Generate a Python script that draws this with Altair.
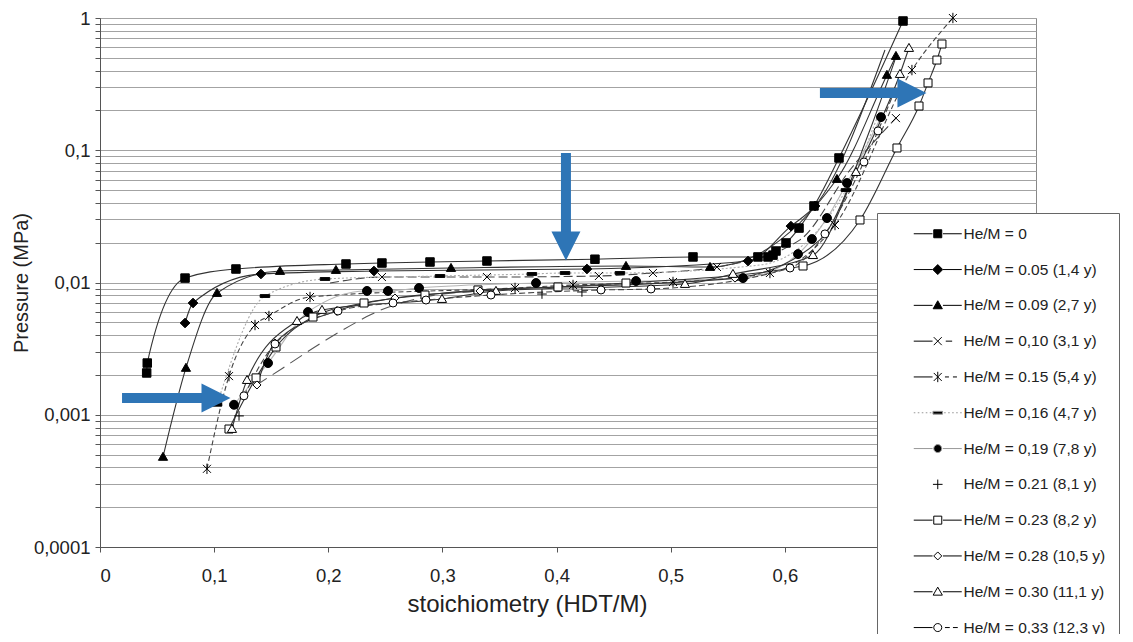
import altair as alt
import pandas as pd

BLUE = "#2E75B6"

legend_labels = [
    "He/M = 0",
    "He/M = 0.05 (1,4 y)",
    "He/M = 0.09 (2,7 y)",
    "He/M = 0,10 (3,1 y)",
    "He/M = 0.15 (5,4 y)",
    "He/M = 0,16 (4,7 y)",
    "He/M = 0,19 (7,8 y)",
    "He/M = 0.21 (8,1 y)",
    "He/M = 0.23 (8,2 y)",
    "He/M = 0.28 (10,5 y)",
    "He/M = 0.30 (11,1 y)",
    "He/M = 0,33 (12,3 y)",
]

# ---- series values (stoichiometry HDT/M, pressure MPa) ----
s00_x = [0.0409, 0.0414, 0.0745, 0.1191, 0.2155, 0.2470, 0.2891, 0.3390, 0.4336, 0.5195, 0.5764, 0.5852, 0.5896, 0.5922, 0.6010, 0.6124, 0.6255, 0.6474, 0.7035]
s00_p = [0.00207, 0.00246, 0.0108, 0.01265, 0.0138, 0.01404, 0.01429, 0.01454, 0.0150, 0.0156, 0.0156, 0.0156, 0.0161, 0.0173, 0.0199, 0.0258, 0.0379, 0.0874, 0.949]

s05_x = [0.0745, 0.0815, 0.141, 0.240, 0.4266, 0.5677, 0.6053, 0.6264]
s05_p = [0.00494, 0.0070, 0.0116, 0.01222, 0.01265, 0.01454, 0.0267, 0.0379]
s05_ex = [0.6877]
s05_ep = [0.573]

s09_x = [0.0552, 0.0753, 0.1025, 0.1577, 0.2067, 0.3075, 0.4608, 0.5344, 0.6456, 0.6894, 0.6973]
s09_p = [0.00048, 0.00226, 0.00833, 0.01222, 0.01243, 0.01287, 0.01333, 0.0131, 0.0606, 0.371, 0.516]

s10_x = [0.247, 0.339, 0.4371, 0.4844, 0.5405, 0.6973]
s10_p = [0.0110, 0.0110, 0.0112, 0.0118, 0.0131, 0.175]
s10_ex = [0.2015, 0.6132, 0.657]
s10_ep = [0.00991, 0.021, 0.0709]

s15_x = [0.0937, 0.113, 0.1358, 0.148, 0.184, 0.3636, 0.4144, 0.502, 0.5869, 0.6439, 0.7113, 0.7472]
s15_p = [0.00039, 0.00196, 0.00477, 0.00558, 0.00777, 0.00909, 0.00957, 0.01009, 0.0118, 0.0272, 0.404, 1.0]

s16_x = [0.1025, 0.1445, 0.1971, 0.2979, 0.3784, 0.4074, 0.4555, 0.6535]
s16_p = [0.00119, 0.0079, 0.01063, 0.0112, 0.0116, 0.0118, 0.0118, 0.050]
s16_ex = [0.5782, 0.6833]
s16_ep = [0.01356, 0.2015]

s19_x = [0.1174, 0.1472, 0.1822, 0.2339, 0.2523, 0.2795, 0.382, 0.4696, 0.5633, 0.6115, 0.6237, 0.6369, 0.6544, 0.6842]
s19_p = [0.00119, 0.00246, 0.00598, 0.00863, 0.00863, 0.00909, 0.00991, 0.01026, 0.0108, 0.0164, 0.0213, 0.0307, 0.0565, 0.178]

s21_x = [0.1218, 0.2076, 0.3872, 0.4222]
s21_p = [0.00098, 0.00609, 0.00818, 0.00848]
s21_lx = [0.1358, 0.1603, 0.191, 0.2251, 0.2365, 0.2803, 0.3329]
s21_lp = [0.00165, 0.00226, 0.00337, 0.00503, 0.00568, 0.00763, 0.00863]

s23_x = [0.113, 0.1367, 0.1542, 0.1866, 0.2313, 0.2847, 0.3311, 0.4012, 0.4608, 0.6159, 0.6658, 0.6982, 0.7175, 0.7254, 0.7332, 0.7376]
s23_p = [0.00078, 0.0019, 0.00325, 0.00548, 0.0070, 0.00804, 0.00878, 0.00925, 0.00991, 0.01333, 0.0297, 0.104, 0.216, 0.323, 0.481, 0.636]

s28_x = [0.1375, 0.1533, 0.2076, 0.2584, 0.3329, 0.5563]
s28_p = [0.00168, 0.00349, 0.00609, 0.00763, 0.00863, 0.0108]
s28_ex = [0.6307, 0.6745, 0.6964]
s28_ep = [0.021, 0.1422, 0.481]

s30_x = [0.1156, 0.1288, 0.1726, 0.1945, 0.2996, 0.3469, 0.5125, 0.5545, 0.6246, 0.6623, 0.7008, 0.7087]
s30_p = [0.00078, 0.00183, 0.00511, 0.0062, 0.0075, 0.00863, 0.00974, 0.0116, 0.0161, 0.0684, 0.377, 0.593]

s33_x = [0.1261, 0.1533, 0.2085, 0.2567, 0.2856, 0.3425, 0.4389, 0.4827, 0.6045, 0.6351, 0.6693, 0.6816]
s33_p = [0.00139, 0.00343, 0.00609, 0.0070, 0.00737, 0.00804, 0.00878, 0.00893, 0.01287, 0.0233, 0.0815, 0.14]
s33_ex = [0.6947]
s33_ep = [0.262]

# arrows (data coordinates)
harrow_x0 = [0.0193, 0.6307]
harrow_x1 = [0.0902, 0.7017]
harrow_p = [0.001338, 0.271]
harrow_head_x = [0.1016, 0.7113]
varrow_x = [0.4082]
varrow_p0 = [0.0953]
varrow_p1 = [0.02367]
varrow_head_p = [0.01888]

x_tick_values = [0, 0.1, 0.2, 0.3, 0.4, 0.5, 0.6]
y_tick_values = [round(k * 10.0 ** e, 10) for e in range(-4, 0) for k in range(1, 10)] + [1.0]

# ---- marker shapes ----
SQ = "M-1,-1H1V1H-1Z"
DIA = "M0,-1.25L1.25,0L0,1.25L-1.25,0Z"
TRI = "M0,-1.15L1.15,0.85H-1.15Z"
XX = "M-1,-1L1,1M-1,1L1,-1"
AST = "M-1,-1L1,1M-1,1L1,-1M0,-1.3V1.3"
BAR = "M-1.2,-0.35H1.2V0.35H-1.2Z"
PLUS = "M-1.2,0H1.2M0,-1.2V1.2"
CIRC = "M1,0A1,1,0,1,1,-1,0A1,1,0,1,1,1,0Z"
LINE = "M-6,0H-1.3M1.3,0H6"
LEFT = "M-6,0H-1.3"
DOTS_L = "M-6,0H-5.6M-5,0H-4.6M-4,0H-3.6M-3,0H-2.6M-2,0H-1.6"
DOTS_R = "M1.6,0H2M2.6,0H3M3.6,0H4M4.6,0H5M5.6,0H6"

legend_paths = [
    LINE + SQ, LINE + DIA, LINE + TRI,
    LEFT + XX + "M2,0H3.6",
    LEFT + AST + "M1.8,0H2.8M3.8,0H4.8",
    DOTS_L + BAR + DOTS_R,
    LINE + CIRC,
    PLUS,
    LINE + SQ, LINE + "M0,-1L1,0L0,1L-1,0Z", LINE + TRI,
    LEFT + CIRC + "M1.8,0H3M3.8,0H5",
]
legend_fills = ["black", "black", "black", "black", "black", "black", "black",
                "black", "white", "white", "white", "white"]
legend_strokes = ["black", "black", "black", "black", "black", "#999999", "#999999",
                  "black", "black", "black", "black", "black"]

XSCALE = alt.Scale(domain=[0, 0.82], nice=False, zero=False)
YSCALE = alt.Scale(type="log", domain=[0.0001, 1], nice=False)

x_axis = alt.Axis(
    values=x_tick_values, title="stoichiometry (HDT/M)", grid=False,
    labelExpr="replace(format(datum.value, '~g'), '.', ',')",
    labelFontSize=18.5, titleFontSize=24, labelColor="#222", titleColor="#222",
    titleFontWeight="normal", domainColor="#555", tickColor="#555", tickSize=5,
    labelPadding=14, titlePadding=8, titleX=427, titleAlign="center",
)
y_axis = alt.Axis(
    values=y_tick_values, title="Pressure (MPa)", grid=True,
    gridColor="#a3a3a3", gridWidth=1,
    labelExpr="abs(log(datum.value)/LN10 - round(log(datum.value)/LN10)) < 0.001 ? replace(format(datum.value, '~g'), '.', ',') : ''",
    labelFontSize=18.5, titleFontSize=20, labelColor="#222", titleColor="#222",
    titleFontWeight="normal", domainColor="#555", tickColor="#555", tickSize=5,
    labelPadding=5, titlePadding=2,
)


def X(f):
    return alt.X(f, type="quantitative", scale=XSCALE, axis=x_axis)


def Y(f):
    return alt.Y(f, type="quantitative", scale=YSCALE, axis=y_axis)


series = [
    # xs, ps, extra xs, extra ps, shape, fill, size, line color, dash
    (s00_x, s00_p, [], [], SQ, "black", 72, "#333", None),
    (s05_x, s05_p, s05_ex, s05_ep, DIA, "black", 60, "#333", None),
    (s09_x, s09_p, [], [], TRI, "black", 64, "#333", None),
    (s10_x, s10_p, s10_ex, s10_ep, XX, "black", 64, "#444", [9, 4]),
    (s15_x, s15_p, [], [], AST, "black", 64, "#444", [5, 3]),
    (s16_x, s16_p, s16_ex, s16_ep, BAR, "black", 64, "#aaaaaa", [2, 2]),
    (s19_x, s19_p, [], [], "circle", "black", 80, "#b5b5b5", None),
    (s21_x, s21_p, None, None, PLUS, "black", 64, "#555", [14, 7]),
    (s23_x, s23_p, [], [], SQ, "white", 64, "#333", None),
    (s28_x, s28_p, s28_ex, s28_ep, DIA, "white", 42, "#333", None),
    (s30_x, s30_p, [], [], TRI, "white", 64, "#333", None),
    (s33_x, s33_p, s33_ex, s33_ep, "circle", "white", 64, "#444", [6, 3]),
]

line_layers = []
point_layers = []
for xs, ps, exs, eps, shape, fill, size, lcol, dash in series:
    if exs is None:
        lx, lp = s21_lx, s21_lp
    else:
        lx, lp = list(xs) + list(exs), list(ps) + list(eps)
    ldf = pd.DataFrame({"x": lx, "p": lp}).sort_values("x")
    kw = dict(interpolate="monotone", color=lcol, strokeWidth=1.1)
    if dash is not None:
        kw["strokeDash"] = dash
    line_layers.append(alt.Chart(ldf).mark_line(**kw).encode(x=X("x"), y=Y("p")))
    pdf = pd.DataFrame({"x": xs, "p": ps})
    point_layers.append(
        alt.Chart(pdf).mark_point(shape=shape, filled=True, fill=fill, stroke="black",
                                  strokeWidth=1, size=size, opacity=1)
        .encode(x=X("x"), y=Y("p"))
    )

h_df = pd.DataFrame({"x": harrow_x0, "x1": harrow_x1, "p": harrow_p, "hx": harrow_head_x})
v_df = pd.DataFrame({"x": varrow_x, "p": varrow_p0, "p1": varrow_p1, "hp": varrow_head_p})

h_shaft = alt.Chart(h_df).mark_rule(color=BLUE, strokeWidth=10, strokeCap="butt").encode(
    x=X("x"), x2="x1", y=Y("p"))
h_head = alt.Chart(h_df).mark_point(shape="M-1,-1L1,0L-1,1Z", filled=True, color=BLUE,
                                    size=841, opacity=1, strokeWidth=0).encode(x=X("hx"), y=Y("p"))
v_shaft = alt.Chart(v_df).mark_rule(color=BLUE, strokeWidth=10, strokeCap="butt").encode(
    x=X("x"), y=Y("p"), y2="p1")
v_head = alt.Chart(v_df).mark_point(shape="M-1,-1H1L0,1Z", filled=True, color=BLUE,
                                    size=841, opacity=1, strokeWidth=0).encode(x=X("x"), y=Y("hp"))

leg = alt.Legend(
    title=None, orient="none", legendX=777, legendY=195,
    fillColor="white", strokeColor="#666", padding=13,
    labelFontSize=15.5, labelColor="#222", labelFont="Liberation Sans",
    symbolStrokeWidth=1, symbolSize=64, symbolOffset=40, labelOffset=18, rowPadding=18.8,
    labelLimit=400, zindex=5,
    labelExpr="datum.label + '\u00a0\u00a0\u00a0\u00a0\u00a0\u00a0\u00a0\u00a0\u00a0\u00a0'",
)
leg_df = pd.DataFrame({"entry": legend_labels})
carrier = alt.Chart(leg_df).mark_point(filled=True, size=64, strokeWidth=1, opacity=1).encode(
    x=alt.value(-400), y=alt.value(-400),
    shape=alt.Shape("entry:N", scale=alt.Scale(domain=legend_labels, range=legend_paths), legend=leg),
    fill=alt.Fill("entry:N", scale=alt.Scale(domain=legend_labels, range=legend_fills), legend=leg),
    stroke=alt.Stroke("entry:N", scale=alt.Scale(domain=legend_labels, range=legend_strokes), legend=leg),
)

chart = alt.layer(
    *line_layers, *point_layers, h_shaft, h_head, v_shaft, v_head, carrier
).properties(
    width=936, height=529,
    autosize=alt.AutoSizeParams(type="none"),
    padding={"left": 92, "top": 10, "right": 89, "bottom": 87},
).configure(font="Liberation Sans").configure_view(stroke="#888", strokeWidth=1)

chart.save("out.html", embed_options={"renderer": "svg", "actions": False})
